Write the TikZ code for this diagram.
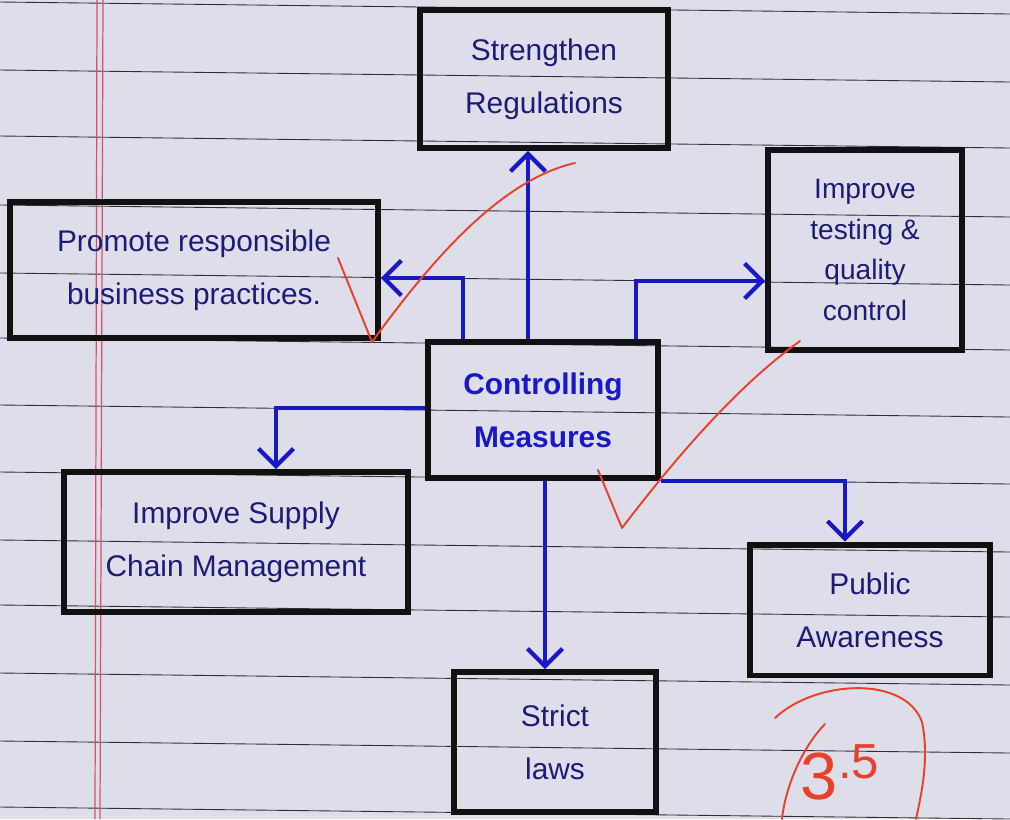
\documentclass[tikz,border=0pt]{standalone}
\usepackage{fontspec}
\setmainfont{Liberation Sans}
\usetikzlibrary{arrows.meta,calc}
\definecolor{paper}{HTML}{DDDEEA}
\definecolor{rulec}{HTML}{2E2E3A}
\definecolor{marginc}{HTML}{D8506A}
\definecolor{boxc}{HTML}{111111}
\definecolor{ink}{HTML}{1C1C78}
\definecolor{arrowc}{HTML}{1818C8}
\definecolor{gradec}{HTML}{E8402A}
\tikzset{
  rulel/.style={draw=rulec, line width=0.5pt},
  marginl/.style={draw=marginc, line width=0.7pt},
  box/.style={draw=boxc, line width=3.4pt, align=center, text=ink, inner sep=2pt,
    font=\fontsize{17}{30}\selectfont},
  conn/.style={draw=arrowc, line width=2.4pt, -{Straight Barb[length=3.5mm,width=7mm]}},
  grade/.style={draw=gradec, line width=1.1pt, line cap=round, line join=round}
}
\begin{document}
\begin{tikzpicture}[x=0.02cm,y=-0.02cm]
\fill[paper] (0,0) rectangle (1010,819);
\useasboundingbox (0,0) rectangle (1010,819);
% ruled paper
\foreach \yy in {2,70,136,205,273,338,405,472,540,605,673,741,807}
  \draw[rulel] (0,\yy) -- (1010,{\yy+12});
\draw[marginl] (97,0) -- (95,819);
\draw[marginl] (103,0) -- (100,819);
% helper coordinates
\coordinate (c528) at (528,0);
\coordinate (c463) at (463,0);
\coordinate (c636) at (636,0);
\coordinate (c276) at (276,0);
\coordinate (c545) at (545,0);
\coordinate (c845) at (845,0);
\coordinate (r278) at (0,278);
\coordinate (r281) at (0,281);
\coordinate (r408) at (0,408);
% boxes
\node[box, minimum width=4.96cm, minimum height=2.76cm] (str) at (544,79) {Strengthen\\Regulations};
\node[box, minimum width=7.36cm, minimum height=2.72cm] (pro) at (194,270) {Promote responsible\\business practices.};
\node[box, minimum width=3.88cm, minimum height=4.0cm, font=\fontsize{16}{23}\selectfont] (imp) at (865,250) {Improve\\testing \&\\quality\\control};
\node[box, minimum width=4.6cm, minimum height=2.72cm, text=arrowc, font=\fontsize{17}{30}\selectfont\bfseries] (ctl) at (543,410) {Controlling\\Measures};
\node[box, minimum width=6.88cm, minimum height=2.8cm] (sup) at (236,542) {Improve Supply\\Chain Management};
\node[box, minimum width=4.8cm, minimum height=2.62cm] (pub) at (870,610) {Public\\Awareness};
\node[box, minimum width=4.04cm, minimum height=2.8cm] (law) at (555,742) {Strict\\laws};
% connectors
\draw[conn] (ctl.north -| c528) -- (str.south -| c528);
\draw[conn] (ctl.north -| c463) |- (pro.east |- r278);
\draw[conn] (ctl.north -| c636) |- (imp.west |- r281);
\draw[conn] (ctl.west |- r408) -| (sup.north -| c276);
\draw[conn] (ctl.south -| c545) -- (law.north -| c545);
\draw[conn] (ctl.south east) -| (pub.north -| c845);
% grader's marks
\draw[grade] (338,258) -- (372,342) .. controls (430,262) and (500,180) .. (575,163);
\draw[grade] (598,470) -- (622,528) .. controls (680,452) and (740,384) .. (800,341);
\draw[grade] (775,718) .. controls (815,680) and (905,675) .. (922,722) .. controls (930,760) and (920,800) .. (916,819);
\draw[grade] (825,724) .. controls (800,750) and (785,790) .. (782,819);
\node[text=gradec, font=\fontsize{38}{38}\selectfont, inner sep=0] (score) at (840,772) {3\raisebox{0.6ex}{\fontsize{28}{28}\selectfont .5}};
\end{tikzpicture}
\end{document}
